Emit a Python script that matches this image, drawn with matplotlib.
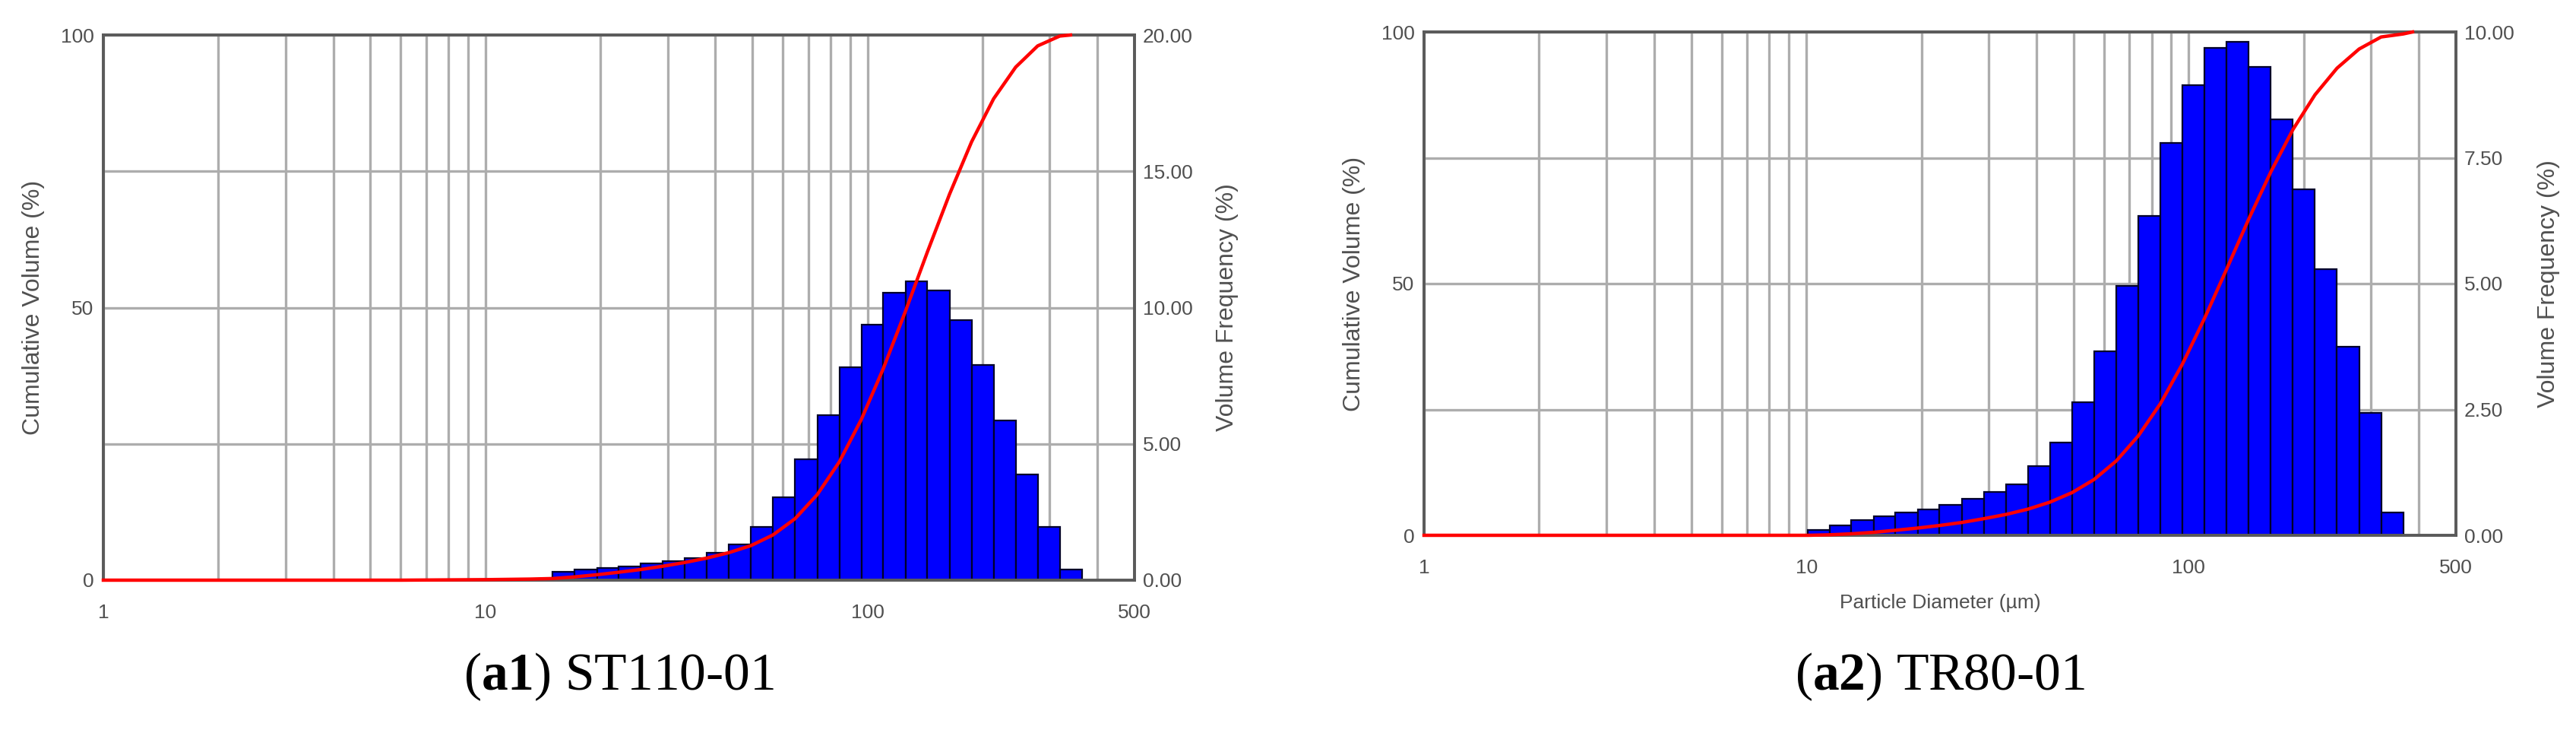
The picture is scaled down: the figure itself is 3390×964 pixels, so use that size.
import numpy as np
import matplotlib
matplotlib.use('Agg')
import matplotlib.pyplot as plt

plt.rcParams['font.family'] = ['Liberation Sans', 'DejaVu Sans']
plt.rcParams['mathtext.fontset'] = 'custom'
plt.rcParams['mathtext.rm'] = 'Liberation Serif'
plt.rcParams['mathtext.bf'] = 'Liberation Serif:bold'

# instrument size classes (um), shared by both samples
bin_edges = [10.1, 11.5, 13.1, 15.0, 17.1, 19.6, 22.3, 25.5, 29.1, 33.3, 38.0,
             43.4, 49.6, 56.6, 64.7, 73.9, 84.4, 96.4, 110.0, 125.7, 143.5,
             164.0, 187.3, 213.9, 244.3, 279.0, 318.6, 363.9]

# volume frequency (%) per class
freq_st110 = [0.0, 0.0, 0.0, 0.3, 0.4, 0.45, 0.5, 0.6, 0.7, 0.8, 1.0,
              1.3, 1.95, 3.04, 4.43, 6.05, 7.8, 9.38, 10.54, 10.96, 10.63,
              9.54, 7.9, 5.86, 3.88, 1.95, 0.4]
freq_tr80 = [0.1, 0.2, 0.3, 0.38, 0.45, 0.52, 0.6, 0.72, 0.86, 1.01, 1.37,
             1.85, 2.64, 3.66, 4.95, 6.35, 7.79, 8.94, 9.69, 9.80, 9.31,
             8.27, 6.87, 5.28, 3.75, 2.43, 0.45]

# cumulative volume (%) curves
cum_x_st110 = [1, 6.0, 10.1, 13.1, 15.0, 17.1, 19.6, 22.3, 25.5, 29.1, 33.3,
               38.0, 43.4, 49.6, 56.6, 64.7, 73.9, 84.4, 96.4, 110.0, 125.7,
               143.5, 164.0, 187.3, 213.9, 244.3, 279.0, 318.6, 340.0]
cum_st110 = [0, 0, 0.1, 0.2, 0.3, 0.6, 1.0, 1.45, 1.95, 2.55, 3.25,
             4.05, 5.05, 6.35, 8.3, 11.3, 15.7, 21.7, 29.5, 38.8, 49.3,
             60.2, 70.8, 80.4, 88.3, 94.1, 98.0, 99.8, 100.0]
cum_x_tr80 = [1, 10.1, 11.5, 13.1, 15.0, 17.1, 19.6, 22.3, 25.5, 29.1, 33.3,
              38.0, 43.4, 49.6, 56.6, 64.7, 73.9, 84.4, 96.4, 110.0, 125.7,
              143.5, 164.0, 187.3, 213.9, 244.3, 279.0, 318.6, 363.9, 385.0]
cum_tr80 = [0, 0, 0.1, 0.3, 0.6, 1.0, 1.45, 1.95, 2.55, 3.3, 4.15,
            5.2, 6.6, 8.5, 11.1, 14.8, 19.8, 26.2, 34.1, 43.1, 52.9,
            62.8, 72.2, 80.6, 87.5, 92.8, 96.6, 99.0, 99.6, 100.0]

xticks = [1, 10, 100, 500]
xtick_labels = ['1', '10', '100', '500']
minor_x = [2, 3, 4, 5, 6, 7, 8, 9, 20, 30, 40, 50, 60, 70, 80, 90, 200, 300, 400]

W, H = 3390, 964
fig = plt.figure(figsize=(W / 100, H / 100), dpi=100)

txt_col = '#505050'
grid_col = '#adadad'
spine_col = '#5a5a5a'


def panel(box, freq, cx, cy, fmax, fticks, caption, xlabel):
    l, t, r, b = box
    ax = fig.add_axes([l / W, 1 - b / H, (r - l) / W, (b - t) / H])
    ax2 = ax.twinx()
    # bars and grid live on ax2, the curve on ax which sits on top
    ax.set_zorder(ax2.get_zorder() + 1)
    ax.patch.set_visible(False)
    ax2.xaxis.set_visible(True)

    edges = np.array(bin_edges)
    ax2.bar(edges[:-1], freq, width=np.diff(edges), align='edge',
            color='#0000ff', edgecolor='#00002a', linewidth=1.6, zorder=2)
    ax.plot(cx, cy, color='#ff0000', lw=3.2, clip_on=False, zorder=5)

    ax.set_xscale('log')
    ax.set_xlim(1, 500)
    ax.set_ylim(0, 100)
    ax2.set_ylim(0, fmax)

    ax.set_xticks(xticks)
    ax.set_xticklabels(xtick_labels)
    ax.set_xticks(minor_x, minor=True)
    ax.set_yticks([0, 50, 100])
    ax2.set_yticks(fticks)
    ax2.set_yticklabels(['%.2f' % v for v in fticks])

    ax2.set_axisbelow(True)
    ax2.xaxis.grid(True, which='both', color=grid_col, lw=2.4)
    ax2.yaxis.grid(True, color=grid_col, lw=2.4)

    for a in (ax, ax2):
        a.tick_params(which='both', length=0, labelsize=19, colors=txt_col)
        for s in a.spines.values():
            s.set_color(spine_col)
            s.set_linewidth(2.6)
    ax2.tick_params(axis='x', which='both', labelbottom=False)
    ax.tick_params(axis='x', pad=22)
    ax.tick_params(axis='y', pad=9)
    ax2.tick_params(axis='y', pad=8)

    fig.text((l - 92) / W, 1 - (t + b) / 2 / H, 'Cumulative Volume (%)',
             rotation=90, ha='center', va='center', fontsize=23, color=txt_col)
    fig.text((r + 122) / W, 1 - (t + b) / 2 / H, 'Volume Frequency (%)',
             rotation=90, ha='center', va='center', fontsize=23, color=txt_col)
    if xlabel:
        fig.text((l + r) / 2 / W, 1 - (b + 89) / H, xlabel,
                 ha='center', va='center', fontsize=19, color=txt_col)
    fig.text((l + r) / 2 / W, 1 - 890 / H, caption, family='Liberation Serif',
             ha='center', va='center', fontsize=50, color='black')
    return ax


panel((136, 46, 1493, 763), freq_st110, cum_x_st110, cum_st110, 20,
      [0, 5, 10, 15, 20], r'($\mathbf{a1}$) ST110-01', None)
panel((1874, 42, 3232, 704), freq_tr80, cum_x_tr80, cum_tr80, 10,
      [0, 2.5, 5, 7.5, 10], r'($\mathbf{a2}$) TR80-01', 'Particle Diameter (\u00b5m)')

fig.savefig('out.png', dpi=100, facecolor='white')
